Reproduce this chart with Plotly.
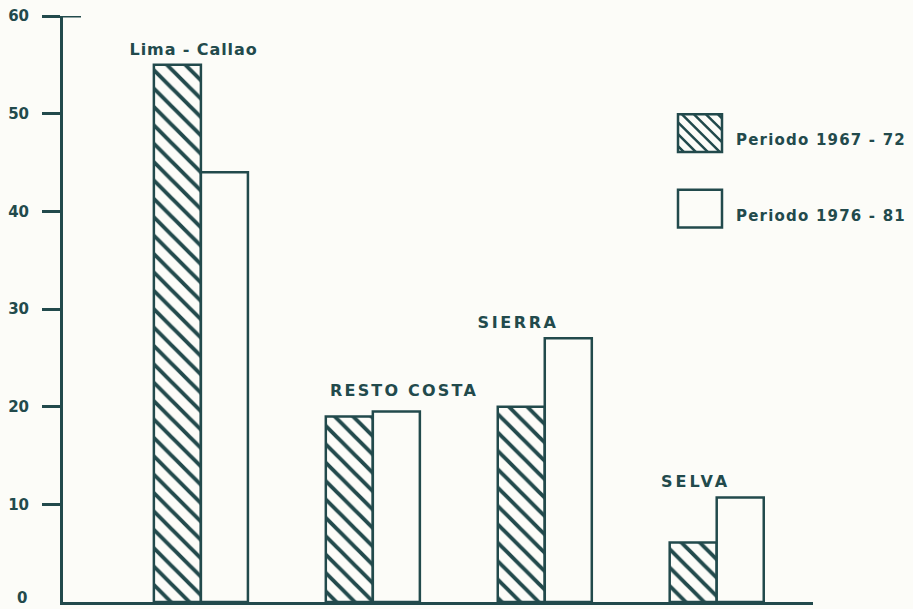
import json
import plotly.graph_objects as go

# ---- data ----
regions = ["Lima - Callao", "RESTO COSTA", "SIERRA", "SELVA"]
periodo_1967_72 = [55, 19, 20, 6.1]
periodo_1976_81 = [44, 19.5, 27, 10.7]
series_names = ["Periodo 1967 - 72", "Periodo 1976 - 81"]
y_ticks = [10, 20, 30, 40, 50, 60]
zero_label = "0"

INK = "#224a4c"
BG = "#fcfcf8"
FONT = "DejaVu Sans, Liberation Sans, Arial, sans-serif"

W, H = 913, 609
L, R, T, B = 63, 100, 12, 7
PW, PH = W - L - R, H - T - B


def px2paper(x, y):
    return (x - L) / PW, (H - B - y) / PH


fig = go.Figure()
fig.add_trace(go.Bar(
    x=regions, y=periodo_1967_72, name=series_names[0],
    marker=dict(color=BG, line=dict(color=INK, width=2.5),
                pattern=dict(shape="\\", fgcolor=INK, bgcolor=BG, size=13, solidity=0.3,
                             fgopacity=1)),
    showlegend=False,
))
fig.add_trace(go.Bar(
    x=regions, y=periodo_1976_81, name=series_names[1],
    marker=dict(color=BG, line=dict(color=INK, width=2.5)),
    showlegend=False,
))

label_pos = [(-8, 56.6), (30, 21.7), (-28, 28.6), (-22, 12.3)]
label_sizes = [16, 16, 16, 16]
label_spacing = [0.9, 2.2, 2.6, 3.0]
annotations = []
spacing_map = {}
shift_map = {}
for name, (xs, yv), fs, sp in zip(regions, label_pos, label_sizes, label_spacing):
    annotations.append(dict(x=name, y=yv, xref="x", yref="y", text=name, showarrow=False,
                            xshift=xs, font=dict(family=FONT, size=fs, color=INK, weight="bold")))
    spacing_map[name] = sp
    shift_map[name] = sp / 2

zx, zy = px2paper(29, 598)
annotations.append(dict(x=zx, y=zy, xref="paper", yref="paper", text=zero_label, showarrow=False,
                        xanchor="right", yanchor="middle",
                        font=dict(family=FONT, size=15, color=INK, weight="bold")))

shapes = []
x0p, _ = px2paper(42, 0)
x1p, _ = px2paper(81, 0)
shapes.append(dict(type="line", xref="paper", yref="y", x0=x0p, x1=x1p, y0=60, y1=60,
                   line=dict(color=INK, width=3)))

boxes = [(678, 111, 722, 149), (678, 187, 722, 225)]
for i, (bx0, by0, bx1, by1) in enumerate(boxes):
    a0, b1 = px2paper(bx0, by0)
    a1, b0 = px2paper(bx1, by1)
    shapes.append(dict(type="rect", xref="paper", yref="paper", x0=a0, x1=a1, y0=b0, y1=b1,
                       line=dict(color=INK, width=2.5), fillcolor=BG))
    if i == 0:
        step = 12
        path = ""
        w, h = bx1 - bx0, by1 - by0
        for c in range(-h + 6, w, step):
            t0 = max(0, -c)
            t1 = min(h, w - c)
            if t1 <= t0:
                continue
            pa = px2paper(bx0 + t0 + c, by0 + t0)
            pb = px2paper(bx0 + t1 + c, by0 + t1)
            path += f"M{pa[0]},{pa[1]} L{pb[0]},{pb[1]} "
        shapes.append(dict(type="path", xref="paper", yref="paper", path=path,
                           line=dict(color=INK, width=2.5)))

legend_text_y = [137, 213]
for name, ty in zip(series_names, legend_text_y):
    tx, typ = px2paper(734, ty)
    annotations.append(dict(x=tx, y=typ, xref="paper", yref="paper", text=name, showarrow=False,
                            xanchor="left", yanchor="middle",
                            font=dict(family=FONT, size=15, color=INK, weight="bold")))
    spacing_map[name] = 1.2
    shift_map[name] = len(name) * 1.2 / 2

fig.update_layout(
    width=W, height=H,
    margin=dict(l=L, r=R, t=T, b=B, pad=0),
    paper_bgcolor=BG, plot_bgcolor=BG,
    barmode="group", bargap=0.453, bargroupgap=0,
    annotations=annotations, shapes=shapes,
    xaxis=dict(type="category", range=[-0.802, 3.56], showticklabels=False, ticks="",
               showgrid=False, zeroline=False, showline=True, linecolor=INK, linewidth=3),
    yaxis=dict(range=[0, 60], tickvals=y_ticks, ticktext=[str(v) for v in y_ticks],
               ticks="outside", ticklen=18, tickwidth=3, tickcolor=INK,
               showgrid=False, zeroline=False, showline=True, linecolor=INK, linewidth=3,
               ticklabelstandoff=10,
               tickfont=dict(family=FONT, size=15, color=INK, weight="bold")),
    showlegend=False,
)

post = (
    "document.body.style.margin='0';document.body.style.overflow='hidden';"
    "var sp=" + json.dumps(spacing_map) + ";"
    "var sh=" + json.dumps(shift_map) + ";"
    "document.querySelectorAll('text.annotation-text').forEach(function(t){"
    "var s=sp[t.textContent];"
    "if(s!==undefined){t.style.letterSpacing=s+'px';"
    "t.setAttribute('x',parseFloat(t.getAttribute('x')||0)+sh[t.textContent]);}});"
)

fig.write_html("out.html", config={"displayModeBar": False}, post_script=post)
